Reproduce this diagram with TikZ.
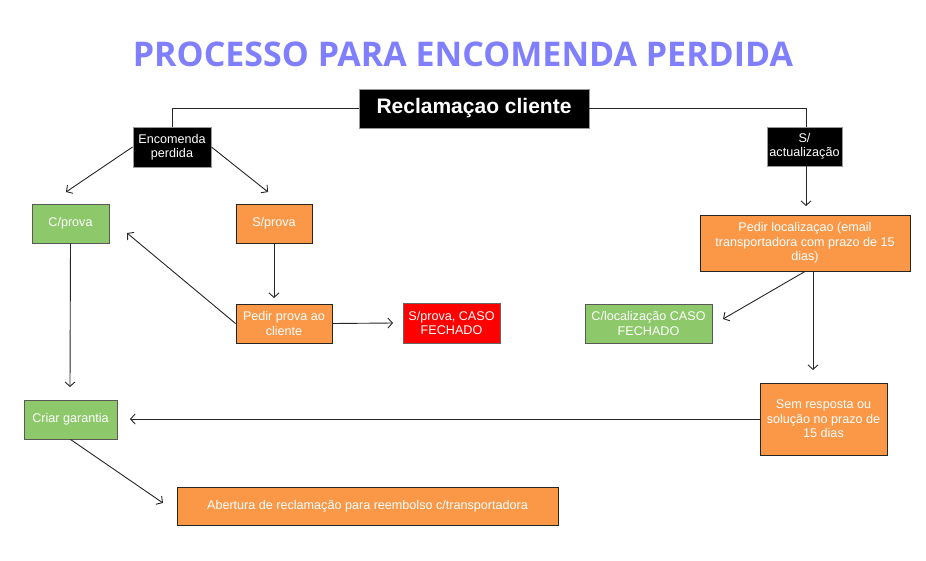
\documentclass[tikz,border=0pt]{standalone}
\usepackage{fontspec}
\setmainfont{Liberation Sans}
\newfontfamily\titlefont{Open Sans}
\usetikzlibrary{arrows.meta}
\definecolor{titleC}{RGB}{127,127,255}
\definecolor{orangeC}{RGB}{250,152,72}
\definecolor{greenC}{RGB}{141,200,106}
\definecolor{redC}{RGB}{255,0,0}
\tikzset{
  basebox/.style={rectangle, inner sep=0pt, align=center, text=white, line width=0.9pt,
    font=\fontsize{12.6}{14.5}\selectfont},
  blk/.style={basebox, fill=black, draw=black!40},
  org/.style={basebox, fill=orangeC, draw=black!85},
  grn/.style={basebox, fill=greenC, draw=black!65},
  redbox/.style={basebox, fill=redC, draw=black!60},
  conn/.style={draw=black!85, line width=0.9pt},
  arr/.style={conn, -{Straight Barb[length=4.5pt,width=10pt,line width=0.9pt]}},
}
\begin{document}
\begin{tikzpicture}[x=1pt,y=-1pt]
\useasboundingbox (0,0) rectangle (926,560);
\fill[white] (0,0) rectangle (926,560);

\node[text=titleC, font=\titlefont\bfseries\fontsize{34}{40}\selectfont] (title) at (463,54) {PROCESSO PARA ENCOMENDA PERDIDA};

\node[blk, minimum width=230pt, minimum height=39pt, font=\bfseries\fontsize{21}{24}\selectfont] (recl) at (474,108.5) {Reclamaçao cliente};
\node[blk, minimum width=78pt, minimum height=40pt] (enc) at (172,147) {Encomenda\\perdida};
\node[blk, minimum width=75pt, minimum height=39pt] (sact) at (804.5,146.5) {S/\\actualização};

\node[grn, minimum width=77pt, minimum height=39pt] (cprova) at (70.5,223.5) {C/prova};
\node[org, minimum width=76pt, minimum height=39pt] (sprova) at (274,223.5) {S/prova};
\node[org, minimum width=96pt, minimum height=39pt] (pedirp) at (284,323.5) {Pedir prova ao\\cliente};
\node[redbox, minimum width=97pt, minimum height=40pt] (sfech) at (451.5,323) {S/prova, CASO\\FECHADO};

\node[org, minimum width=210pt, minimum height=56pt] (pedirl) at (805,243) {Pedir localizaçao (email\\transportadora com prazo de 15\\dias)};
\node[grn, minimum width=127pt, minimum height=39pt] (cloc) at (648.5,323.5) {C/localização CASO\\FECHADO};

\node[grn, minimum width=93pt, minimum height=39pt] (criar) at (70.5,419.5) {Criar garantia};
\node[org, minimum width=127pt, minimum height=72pt] (sem) at (823.5,419) {Sem resposta ou\\solução no prazo de\\15 dias};
\node[org, minimum width=381pt, minimum height=38pt] (abert) at (367.5,506) {Abertura de reclamação para reembolso c/transportadora};

% free arrow ends
\coordinate (e1) at (66,192);
\coordinate (e2) at (268,192);
\coordinate (e3) at (127,233);
\coordinate (e4) at (274,298);
\coordinate (e5) at (393,323);
\coordinate (e6) at (70,387);
\coordinate (e7) at (806,206);
\coordinate (e8) at (723,319);
\coordinate (e9) at (813,370);
\coordinate (e10) at (130,419);
\coordinate (e11) at (163,503);

\draw[conn] (recl.west) -| (enc.north);
\draw[conn] (recl.east) -| (sact.north -| 806,0);
\draw[arr] (enc.west) -- (e1);
\draw[arr] (enc.east) -- (e2);
\draw[arr] (pedirp.west) -- (e3);
\draw[arr] (sprova.south) -- (e4);
\draw[arr] (pedirp.east) -- (e5);
\draw[arr] (cprova.south) -- (e6);
\draw[arr] (sact.south -| 806,0) -- (e7);
\draw[arr] (pedirl.south) -- (e8);
\draw[arr] (pedirl.south -| 813,0) -- (e9);
\draw[arr] (sem.west) -- (e10);
\draw[arr] (criar.south) -- (e11);
\end{tikzpicture}
\end{document}
